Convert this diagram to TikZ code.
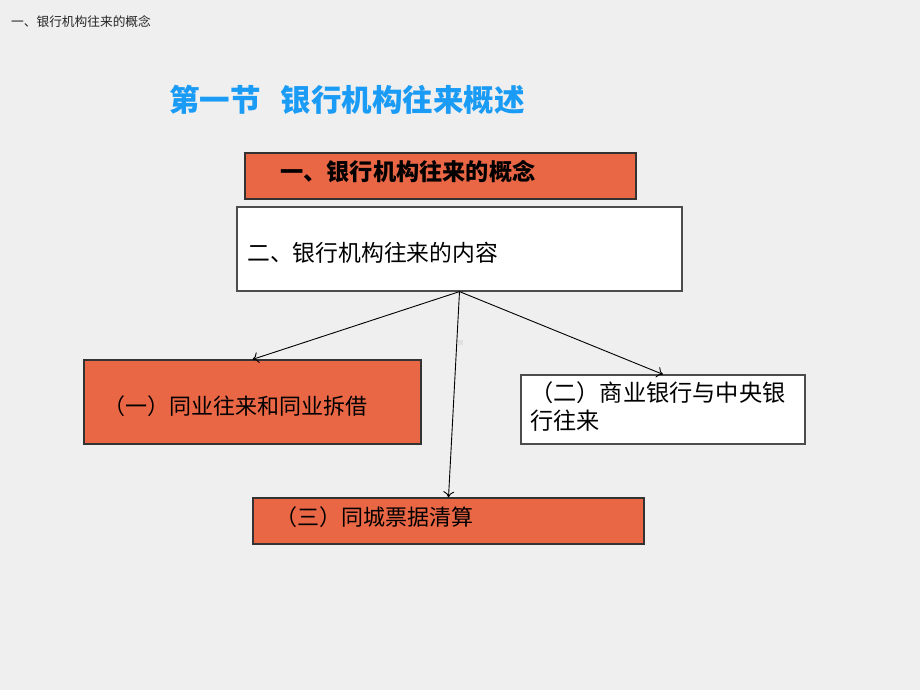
\documentclass[tikz,border=0pt]{standalone}
\usepackage{fontspec}
\setmainfont{Noto Sans CJK SC}
\usetikzlibrary{arrows.meta}

\definecolor{slidebg}{HTML}{EFEFEF}
\definecolor{boxorange}{HTML}{EA6746}
\definecolor{titleblue}{HTML}{1A9BF5}

\tikzset{
  orangebox/.style={draw=black!80, fill=boxorange, line width=1.2pt, inner sep=0pt},
  whitebox/.style={draw=black!70, fill=white, line width=1.2pt, inner sep=0pt},
  boxtext/.style={anchor=west, inner sep=0pt, font=\fontsize{22}{28}\selectfont},
  link/.style={-{To[length=6pt,width=11pt]}, line width=0.9pt}
}

\begin{document}
\begin{tikzpicture}[x=1pt,y=-1pt]
  %% slide
  \fill[slidebg] (0,0) rectangle (920,690);
  \useasboundingbox (0,0) rectangle (920,690);

  \node[anchor=west, inner sep=0pt, text=black!85, font=\fontsize{12.7}{15}\selectfont] (header) at (11,22) {一、银行机构往来的概念};
  \node[anchor=west, inner sep=0pt, text=titleblue, font=\fontsize{30.5}{36}\selectfont\bfseries] (title) at (169,100) {第一节\hspace{20pt}银行机构往来概述};

  %% boxes
  \node[orangebox, minimum width=391pt, minimum height=46pt] (gainian) at (440.5,176) {};
  \node[boxtext, font=\fontsize{23.2}{28}\selectfont\bfseries] (gainiantext) at (280,172) {一、银行机构往来的概念};

  \node[whitebox, minimum width=445pt, minimum height=84pt] (neirong) at (459.5,249) {};
  \node[boxtext, font=\fontsize{22.8}{28}\selectfont] (neirongtext) at (247,253) {二、银行机构往来的内容};

  \node[orangebox, minimum width=337pt, minimum height=84pt] (tongye) at (252.5,402) {};
  \node[boxtext] (tongyetext) at (103,406) {（一）同业往来和同业拆借};

  \node[whitebox, minimum width=284pt, minimum height=69pt] (zhongyang) at (663,409.5) {};
  \node[boxtext, align=left, font=\fontsize{23.2}{28}\selectfont] (zhongyangtext) at (530,407) {（二）商业银行与中央银\\行往来};

  \node[orangebox, minimum width=391pt, minimum height=46pt] (qingsuan) at (448.5,521) {};
  \node[boxtext] (qingsuantext) at (275,517) {（三）同城票据清算};

  \fill[black!12] (458,340) rectangle (463,345);

  %% links
  \draw[link] (neirong.south) -- (tongye.north);
  \draw[link] (neirong.south) -- (qingsuan.north);
  \draw[link] (neirong.south) -- (zhongyang.north);
\end{tikzpicture}
\end{document}
